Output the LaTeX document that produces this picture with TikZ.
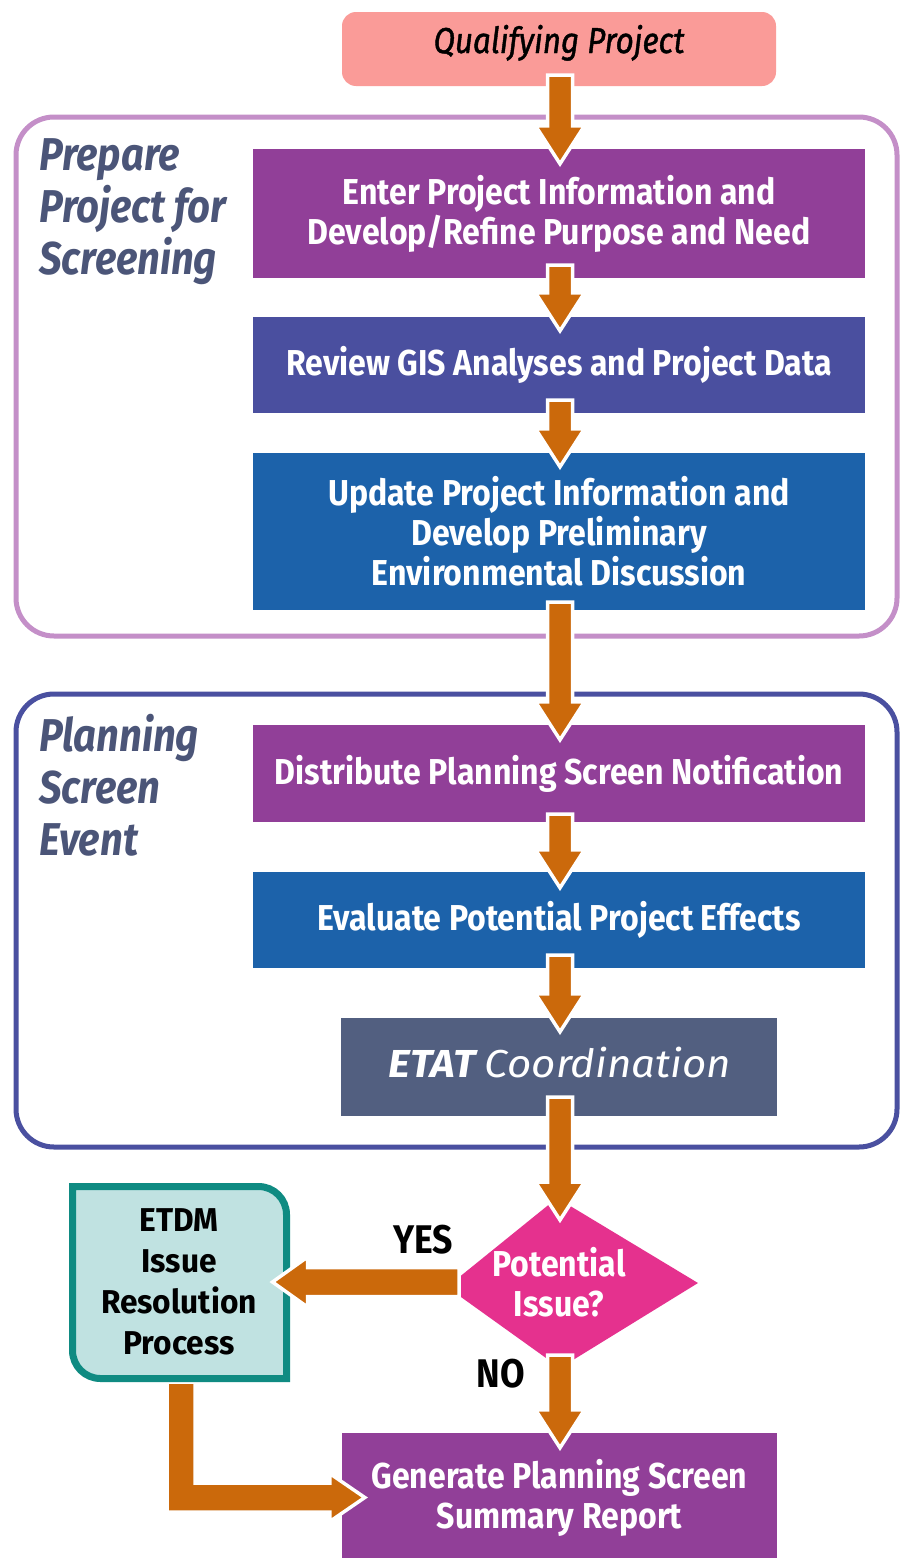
\documentclass[tikz,border=0pt]{standalone}
\usepackage{fontspec}
\setmainfont{Fira Sans}
\newfontfamily\cond{Fira Sans}[FakeStretch=0.89]
\newfontfamily\condt{Fira Sans}[FakeStretch=0.87]
\newfontfamily\condq{Fira Sans}[FakeStretch=0.87, FakeBold=1.2]
\newfontfamily\etdmf{Fira Sans}[FakeStretch=0.96]
\newfontfamily\normw{Fira Sans}[FakeStretch=1.08]
\usetikzlibrary{calc}
\definecolor{pinkq}{HTML}{FA9B98}
\definecolor{purp}{HTML}{913F98}
\definecolor{indig}{HTML}{4A4F9F}
\definecolor{blu}{HTML}{1C62AA}
\definecolor{slatebox}{HTML}{525F80}
\definecolor{mag}{HTML}{E5318E}
\definecolor{orng}{HTML}{CB690B}
\definecolor{lav}{HTML}{C48FC8}
\definecolor{navy}{HTML}{4A50A0}
\definecolor{ttl}{HTML}{4B5578}
\definecolor{tealf}{HTML}{C0E2E1}
\definecolor{teald}{HTML}{0F8B82}
\tikzset{
  box/.style={rectangle, inner sep=0pt, text=white, align=center,
    font=\cond\bfseries\fontsize{36}{40}\selectfont},
  wide/.style={minimum width=612pt},
  narrow/.style={minimum width=436pt},
  barrow/.style={fill=orng, draw=white, line width=3.5pt, line join=miter},
  ttltext/.style={anchor=north west, align=left, inner sep=0pt, text=ttl,
    font=\condt\bfseries\itshape\fontsize{46}{52}\selectfont},
  container/.style={line width=5pt, rounded corners=38pt},
  lbl/.style={inner sep=0pt, font=\cond\bfseries\fontsize{40}{40}\selectfont}
}
\newcommand\varr[2]{%
  \path[barrow] let \p1=#1, \p2=#2 in
    (\x1-12.5pt,\y1) -- (\x1+12.5pt,\y1) -- (\x1+12.5pt,\y2+38pt) --
    (\x1+24.5pt,\y2+38pt) -- (\x1,\y2) -- (\x1-24.5pt,\y2+38pt) --
    (\x1-12.5pt,\y2+38pt) -- cycle;}
\newcommand\harr[2]{%
  \path[barrow] let \p1=#1, \p2=#2 in
    (\x1,\y1-14.5pt) -- (\x2+35pt,\y1-14.5pt) -- (\x2+35pt,\y1-25pt) --
    (\x2,\y1) -- (\x2+35pt,\y1+25pt) -- (\x2+35pt,\y1+14.5pt) --
    (\x1,\y1+14.5pt) -- cycle;}
\newcommand\larr[2]{%
  \path[barrow] let \p1=#1, \p2=#2 in
    (\x1-14pt,\y1) -- (\x1+14pt,\y1) -- (\x1+14pt,\y2+14.5pt) --
    (\x2-35pt,\y2+14.5pt) -- (\x2-35pt,\y2+24pt) -- (\x2,\y2) --
    (\x2-35pt,\y2-24pt) -- (\x2-35pt,\y2-14.5pt) -- (\x1-14pt,\y2-14.5pt) -- cycle;}
\begin{document}
\begin{tikzpicture}[x=1pt,y=-1pt]
\useasboundingbox[fill=white] (0,0) rectangle (900,1558);
% containers
\draw[container, draw=lav] (16,117) rectangle (897,636);
\draw[container, draw=navy] (16,694) rectangle (897,1147);
% titles
\node[ttltext] (t1) at (39,138) {Prepare\\Project for\\Screening};
\node[ttltext] (t2) at (39,714) {Planning\\Screen\\Event};
% boxes
\node[box, fill=pinkq, rounded corners=14pt, minimum width=434pt, minimum height=74pt] (qp) at (559,49) {};
\node[inner sep=0pt, anchor=base, font=\condq\itshape\fontsize{36}{40}\selectfont] (qpt) at (559,53) {Qualifying Project};
\node[box, wide, fill=purp, minimum height=129pt] (b1) at (559,213.5)
  {Enter Project Information and\\Develop/Refine Purpose and Need};
\node[box, wide, fill=indig, minimum height=96pt] (b2) at (559,365)
  {Review GIS Analyses and Project Data};
\node[box, wide, fill=blu, minimum height=157pt] (b3) at (559,531.5)
  {Update Project Information and\\Develop Preliminary\\Environmental Discussion};
\node[box, wide, fill=purp, minimum height=97pt] (b4) at (559,773.5)
  {Distribute Planning Screen Notification};
\node[box, wide, fill=blu, minimum height=96pt] (b5) at (559,920)
  {Evaluate Potential Project Effects};
\node[box, narrow, fill=slatebox, minimum height=98pt] (b6) at (559,1067) {};
\node[inner sep=0pt, text=white, font=\normw\fontsize{39}{42}\selectfont] (b6t) at (560,1063)
  {\bfseries\itshape ETAT \mdseries\itshape Coordination};
\node[box, minimum width=435pt, fill=purp, minimum height=129pt] (b7) at (559.5,1497.5)
  {Generate Planning Screen\\Summary Report};
% decision diamond
\coordinate (diaL) at (447,1287);
\coordinate (diaT) at (557,1198);
\coordinate (diaR) at (698,1283);
\coordinate (diaB) at (560,1368);
\fill[mag] (diaL) -- (diaT) -- (diaR) -- (diaB) -- cycle;
\node[box] (dia) at (559,1282) {Potential\\Issue?};
% ETDM issue box
\coordinate (etdmS) at (181,1382);
\coordinate (etdmE) at (286.5,1282);
\larr{(etdmS)}{($(b7.west)+(23,0)$)}
\draw[line width=7pt, draw=teald, fill=tealf]
  (72.5,1186.5) -- (258.5,1186.5) .. controls (274,1186.5) and (286.5,1199) .. (286.5,1214.5)
  -- (286.5,1378.5) -- (100.5,1378.5) .. controls (85,1378.5) and (72.5,1366) .. (72.5,1350.5)
  -- cycle;
\node[box, text=black, font=\etdmf\bfseries\fontsize{33}{41}\selectfont] (etdm) at (179,1282)
  {ETDM\\Issue\\Resolution\\Process};
% labels
\node[lbl] (yes) at (423,1240) {YES};
\node[lbl] (no) at (501,1374) {NO};
% arrows
\varr{($(qp.south)+(1,-11)$)}{($(b1.north)+(0,15)$)}
\varr{($(b1.south)+(1,-13)$)}{($(b2.north)+(0,14)$)}
\varr{($(b2.south)+(1,-13)$)}{($(b3.north)+(0,14)$)}
\varr{($(b3.south)+(1,-8)$)}{($(b4.north)+(0,15)$)}
\varr{($(b4.south)+(1,-8)$)}{($(b5.north)+(0,16)$)}
\varr{($(b5.south)+(1,-13)$)}{($(b6.north)+(0,14)$)}
\varr{($(b6.south)+(1,-19)$)}{($(diaT)+(0,22)$)}
\varr{($(diaB)+(0,-13)$)}{($(b7.north)+(0,15)$)}
\harr{($(diaL)+(12,-5)$)}{($(etdmE)+(-14,0)$)}
\end{tikzpicture}
\end{document}
